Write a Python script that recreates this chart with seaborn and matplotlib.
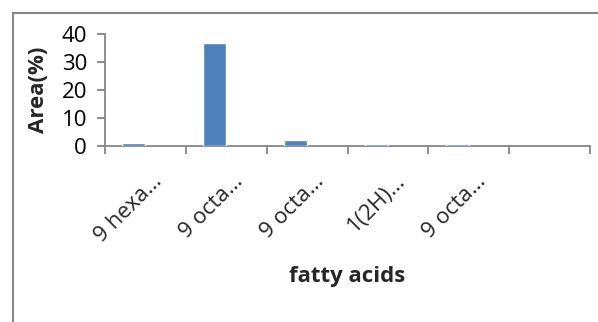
import numpy as np
import pandas as pd
import matplotlib
matplotlib.use("Agg")
import matplotlib.pyplot as plt
import matplotlib.transforms as mtransforms
from matplotlib.patches import Rectangle
import seaborn as sns

# chart data
acid_labels = ["9 hexa\u2026", "9 octa\u2026", "9 octa\u2026", "1(2H)\u2026", "9 octa\u2026", ""]
area_values = [1.0, 36.9, 2.1, 0.8, 0.7, None]
# excel chart had a second, empty series (bars sit left of the category centre)
empty_series = [None, None, None, None, None, None]
y_ticks = [0, 10, 20, 30, 40]

bar_color = "#4F81BD"
axis_color = "#868686"
font_size = 16

sns.set_style("white")
plt.rcParams["font.family"] = ["Open Sans", "DejaVu Sans"]

positions = list(range(len(acid_labels)))
df = pd.DataFrame({
    "pos": positions * 2,
    "area": area_values + empty_series,
    "series": ["s1"] * len(positions) + ["s2"] * len(positions),
})
df["area"] = df["area"].astype(float)

fig = plt.figure(figsize=(5.98, 3.22), dpi=100)
ax = fig.add_axes([105 / 598, 1 - 146 / 322, 485 / 598, 112 / 322])

sns.barplot(data=df, x="pos", y="area", hue="series", hue_order=["s1", "s2"],
            order=positions, palette=[bar_color, bar_color], width=0.57,
            dodge=True, legend=False, errorbar=None, saturation=1, ax=ax)

ax.set_xlim(-0.5, len(positions) - 0.5)
ax.set_ylim(0, 40)
ax.set_yticks(y_ticks)
ax.tick_params(axis="y", length=6, width=1.3, color=axis_color, labelsize=font_size,
               labelcolor="black", pad=7, left=True)

# tick marks at the category boundaries, labels at the centres
ax.set_xticks(np.arange(-0.5, len(positions), 1.0), minor=True)
ax.set_xticks(positions)
ax.set_xticklabels(acid_labels, rotation=45, ha="right", va="center",
                   rotation_mode="anchor", fontsize=font_size)
ax.tick_params(axis="x", which="minor", length=6, width=1.3, color=axis_color, bottom=True)
ax.tick_params(axis="x", which="major", length=0, pad=23)
shift = mtransforms.ScaledTranslation(14 / 100, 0, fig.dpi_scale_trans)
for lbl in ax.get_xticklabels():
    lbl.set_transform(lbl.get_transform() + shift)

for side in ["top", "right"]:
    ax.spines[side].set_visible(False)
for side in ["left", "bottom"]:
    ax.spines[side].set_color(axis_color)
    ax.spines[side].set_linewidth(1.3)
    ax.spines[side].set_zorder(0.5)

ax.set_ylabel("Area(%)", fontsize=font_size, fontweight="bold")
ax.yaxis.set_label_coords(-0.116, 0.5)
ax.set_xlabel("fatty acids", fontsize=font_size, fontweight="bold")
ax.xaxis.set_label_coords(0.5, -1.07)

# outer chart frame, cut off at the right and bottom edges
frame = Rectangle((13 / 598, -0.1), 1.2, 1 - 13 / 322 + 0.1, transform=fig.transFigure,
                  fill=False, edgecolor=axis_color, linewidth=1.5, clip_on=False)
fig.patches.append(frame)

fig.savefig("out.png", dpi=100)
